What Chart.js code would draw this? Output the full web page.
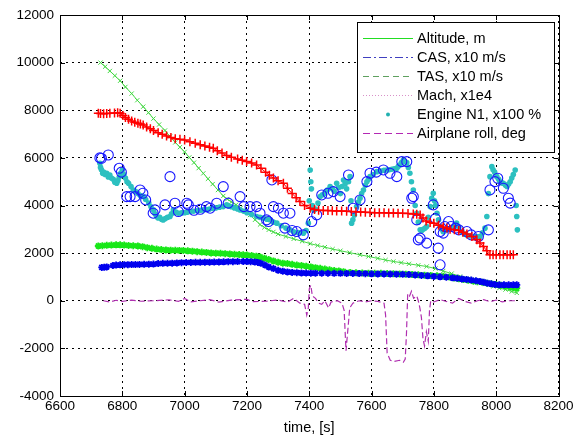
<!DOCTYPE html>
<html><head><meta charset="utf-8">
<script src="https://cdn.jsdelivr.net/npm/chart.js@4.4.1/dist/chart.umd.min.js"></script>
<style>html,body{margin:0;padding:0;background:#fff}</style>
</head><body>
<canvas id="c" width="577" height="437"></canvas>
<script>
// ---- tick labels ----
const xTickValues = [6600, 6800, 7000, 7200, 7400, 7600, 7800, 8000, 8200];
const yTickValues = [-4000, -2000, 0, 2000, 4000, 6000, 8000, 10000, 12000];
const xTitle = 'time, [s]';

// ---- legend ----
const legendLabels = ['Altitude, m', 'CAS, x10 m/s', 'TAS, x10 m/s', 'Mach, x1e4', 'Engine N1, x100 %', 'Airplane roll, deg'];

// ---- series: Altitude (green, x markers) ----
const altT = [6730,6745,6760,6776,6793,6810,6830,6848,6867,6884,6900,6918,6937,6953,6970,6985,7000,7015,7030,7045,7060,7075,7090,7107,7124,7137,7150,7165,7180,7195,7210,7226,7242,7256,7270,7285,7300,7325,7350,7377,7403,7427,7450,7475,7500,7530,7563,7590,7620,7645,7670,7695,7720,7750,7777,7805,7830,7857,7884,7912,7940,7965,7991,8010,8030,8050,8066];
const altV = [10000,9830,9650,9450,9240,8980,8700,8420,8150,7900,7650,7400,7150,6900,6650,6450,6250,6020,5800,5570,5350,5120,4900,4650,4400,4270,4150,4030,3900,3760,3600,3400,3200,3080,2980,2890,2800,2700,2600,2500,2400,2320,2250,2170,2100,2020,1930,1860,1780,1710,1650,1600,1550,1490,1440,1350,1250,1140,1020,910,800,700,600,530,470,390,330];

// ---- series: TAS (green, * markers) ----
const tasT = [6723,6736,6750,6765,6780,6793,6806,6820,6835,6850,6865,6880,6895,6910,6925,6940,6955,6970,6983,6996,7010,7025,7040,7055,7070,7085,7100,7115,7130,7145,7160,7175,7188,7200,7215,7230,7242,7256,7270,7285,7300,7315,7330,7345,7360,7375,7390,7405,7420,7435,7450,7465,7480,7495,7510,7531,7550,7570,7590,7610,7630,7650,7670,7690,7710,7730,7750,7770,7790,7810,7830,7850,7865,7880,7895,7910,7927,7940,7955,7970,7985,8000,8015,8030,8045,8055,8066];
const tasV = [2300,2310,2330,2340,2350,2350,2340,2320,2310,2300,2270,2230,2200,2170,2150,2135,2125,2120,2115,2110,2095,2080,2060,2045,2030,2010,2000,1990,1975,1965,1950,1940,1930,1920,1900,1870,1840,1790,1730,1670,1620,1580,1560,1530,1500,1480,1450,1420,1390,1360,1330,1300,1270,1250,1220,1190,1175,1165,1160,1155,1150,1140,1135,1125,1115,1105,1090,1075,1065,1050,1030,1000,960,920,890,860,820,800,780,740,710,680,650,610,580,560,530];

// ---- series: CAS (blue, * markers) ----
const casT = [6734,6742,6750,6770,6780,6793,6806,6818,6830,6842,6855,6870,6885,6900,6915,6930,6945,6960,6975,6990,7005,7020,7035,7050,7065,7080,7095,7110,7125,7140,7155,7170,7188,7200,7212,7225,7235,7245,7258,7270,7285,7300,7315,7330,7345,7360,7375,7390,7405,7420,7440,7460,7480,7500,7520,7540,7560,7580,7600,7620,7640,7660,7680,7700,7720,7740,7760,7780,7800,7820,7840,7860,7875,7890,7905,7920,7935,7948,7960,7972,7984,7996,8010,8025,8040,8055,8066];
const casV = [1400,1405,1420,1480,1500,1510,1515,1515,1520,1520,1525,1530,1535,1540,1560,1570,1575,1580,1590,1600,1606,1610,1612,1615,1618,1620,1623,1630,1635,1640,1642,1645,1648,1645,1640,1630,1610,1570,1500,1420,1350,1280,1240,1210,1190,1180,1170,1165,1160,1158,1155,1155,1152,1150,1148,1145,1140,1135,1130,1128,1125,1120,1115,1110,1100,1085,1065,1045,1020,1005,990,965,940,915,895,870,840,810,780,740,710,680,670,670,670,670,670];

// ---- series: Mach (red, + markers) ----
const machT = [6723,6730,6740,6750,6760,6775,6785,6793,6802,6810,6820,6830,6840,6850,6858,6867,6878,6890,6900,6915,6928,6942,6956,6970,6985,7000,7017,7034,7050,7065,7080,7092,7105,7120,7135,7150,7170,7185,7199,7215,7231,7245,7260,7272,7285,7300,7317,7330,7345,7358,7370,7385,7403,7417,7430,7445,7460,7474,7488,7504,7520,7535,7550,7565,7580,7595,7610,7625,7640,7655,7670,7685,7700,7717,7734,7745,7756,7765,7775,7788,7800,7815,7830,7842,7852,7866,7880,7893,7906,7922,7938,7948,7959,7970,7980,7990,8000,8012,8023,8035,8045,8055];
const machV = [7870,7860,7850,7860,7870,7880,7900,7870,7780,7700,7620,7550,7500,7450,7420,7380,7300,7220,7150,7060,6990,6920,6860,6800,6780,6750,6680,6610,6550,6500,6450,6400,6300,6200,6100,6030,5950,5900,5850,5780,5700,5560,5400,5270,5150,5040,4935,4720,4500,4330,4164,4000,3887,3830,3800,3795,3790,3780,3774,3767,3760,3750,3740,3725,3712,3703,3698,3694,3692,3690,3684,3678,3672,3660,3648,3630,3606,3480,3350,3290,3250,3170,3100,3050,3006,2980,2950,2880,2800,2700,2560,2420,2277,2100,1929,1929,1929,1929,1929,1929,1929,1929];

// ---- series: Engine N1 (cyan dots) ----
const n1T = [6728,6730,6733,6737,6740,6745,6750,6755,6760,6765,6771,6776,6782,6786,6790,6795,6800,6805,6810,6815,6820,6828,6835,6842,6850,6858,6867,6875,6885,6892,6900,6905,6910,6915,6920,6926,6931,6938,6945,6953,6958,6964,6972,6980,6990,7000,7008,7017,7028,7040,7050,7060,7070,7080,7090,7100,7112,7124,7135,7142,7150,7160,7170,7178,7190,7200,7215,7231,7242,7253,7264,7274,7285,7296,7310,7325,7338,7350,7365,7381,7390,7397,7400,7403,7405,7407,7410,7415,7420,7428,7435,7442,7450,7458,7467,7474,7480,7488,7494,7500,7505,7510,7515,7520,7526,7531,7534,7536,7540,7545,7552,7558,7563,7568,7574,7580,7585,7590,7595,7605,7617,7630,7640,7649,7657,7665,7673,7681,7686,7690,7696,7702,7707,7713,7718,7723,7728,7734,7740,7745,7750,7756,7761,7766,7772,7777,7782,7788,7793,7798,7802,7805,7810,7815,7820,7825,7830,7838,7845,7855,7863,7873,7880,7890,7898,7906,7918,7930,7940,7948,7956,7964,7970,7975,7980,7986,7990,7995,8002,8008,8012,8018,8023,8030,8035,8040,8045,8050,8055,8061,8064,8066,8068];
const n1V = [5774,5600,5500,5350,5400,5300,5350,5200,5283,5150,5100,4980,4935,5050,5200,5350,5493,5300,5150,5000,4935,4800,4654,4600,4500,4420,4373,4250,4100,3950,3816,3650,3535,3480,3500,3420,3396,3450,3500,3535,3650,3816,3720,3677,3690,3700,3720,3745,3760,3780,3800,3816,3830,3850,3880,3900,3930,3954,4025,3980,3950,3900,3850,3816,3760,3700,3620,3535,3500,3468,3420,3400,3300,3258,3150,3050,2977,2900,2860,2838,2950,3258,4200,5493,5000,4700,4000,3800,3850,4100,4373,4450,4500,4650,4793,4700,4600,4935,4750,4500,4800,5073,4900,4700,5000,5212,4200,3258,3400,3600,3954,4150,4300,4500,4654,4850,5000,5100,5212,5300,5422,5450,5480,5493,5500,5520,5540,5563,5650,5700,5800,5912,5850,5800,5600,5354,5000,4654,4000,3677,3300,2977,2950,3000,3050,3115,3500,3954,4300,4515,4200,4000,3677,3400,3115,3000,2900,2950,3000,3050,3115,3258,3100,2900,2800,2750,2720,2700,2690,2700,2850,3048,3535,4500,5212,5632,5500,5400,5212,5100,5000,4950,4935,4850,4800,4900,5000,5150,5300,5493,4000,3535,2977];

// ---- series: blue circles ----
const circT = [6728,6733,6755,6790,6797,6814,6825,6841,6857,6866,6875,6899,6905,6937,6953,6969,6980,7007,7012,7030,7050,7070,7082,7103,7124,7140,7178,7190,7210,7231,7242,7263,7269,7280,7285,7301,7317,7322,7338,7345,7360,7381,7408,7424,7440,7460,7477,7499,7526,7541,7563,7585,7595,7615,7638,7659,7681,7697,7713,7729,7734,7745,7750,7756,7777,7798,7805,7814,7820,7820,7830,7835,7847,7855,7870,7880,7906,7920,7943,7975,7980,7996,8005,8023,8039,8045];
const circV = [6000,5983,6122,5563,5400,4373,4373,4373,4654,4515,4234,3677,3816,4025,5212,4095,3745,4095,4025,3800,3842,3954,3887,4095,4793,4100,4373,3954,3954,3954,3677,3396,3325,5073,3954,3887,3677,3048,3677,2950,2906,2767,3325,3606,4444,4515,4583,4373,5283,3887,4234,5003,5354,5400,5493,5354,5212,5841,5841,4304,4373,3396,2558,2629,2419,4025,3450,2210,2906,1509,2838,3115,3325,3115,3048,2977,2906,2767,2700,2977,4654,5003,5145,4725,4304,4100];

// ---- series: Airplane roll (magenta dashed) ----
const rollT = [6739,6760,6780,6800,6830,6860,6900,6950,6980,7000,7020,7050,7080,7110,7150,7200,7220,7260,7300,7330,7350,7370,7385,7392,7397,7400,7405,7410,7420,7430,7440,7450,7462,7470,7490,7505,7512,7518,7524,7530,7540,7560,7580,7600,7620,7640,7645,7650,7660,7672,7690,7702,7708,7712,7716,7722,7728,7735,7745,7750,7755,7760,7765,7770,7776,7782,7786,7790,7800,7820,7840,7860,7870,7880,7900,7920,7940,7960,7980,8000,8020,8040,8066];
const rollV = [0,-50,20,-30,30,-20,0,40,-30,100,-50,0,50,-60,30,60,-40,-20,30,-60,100,-100,-150,-600,-300,500,650,200,100,-100,-150,0,-300,-50,0,-100,-400,-2100,-1200,-300,-100,0,-50,0,-30,-100,-600,-2200,-2500,-2550,-2500,-2580,-2450,-1400,300,200,400,100,200,0,-300,-700,-1600,-1900,-1300,-1700,-400,0,-50,50,-30,-100,0,100,-30,-100,0,50,-40,30,-50,0,0];

const zip = (t, v) => t.map((x, i) => ({x: x, y: v[i]}));

const FONT = '"Liberation Sans", Arial, sans-serif';

const framePlugin = {
  id: 'frame',
  afterDraw(chart) {
    const ctx = chart.ctx;
    const a = chart.chartArea;
    const xs = chart.scales.x, ys = chart.scales.y;
    ctx.save();
    ctx.setLineDash([]);
    ctx.strokeStyle = '#000';
    ctx.lineWidth = 1;
    // inward ticks
    ctx.beginPath();
    xTickValues.forEach(v => {
      const px = Math.round(xs.getPixelForValue(v)) + 0.5;
      ctx.moveTo(px, a.bottom); ctx.lineTo(px, a.bottom - 5);
      ctx.moveTo(px, a.top); ctx.lineTo(px, a.top + 5);
    });
    yTickValues.forEach(v => {
      const py = Math.round(ys.getPixelForValue(v)) + 0.5;
      ctx.moveTo(a.left, py); ctx.lineTo(a.left + 5, py);
      ctx.moveTo(a.right, py); ctx.lineTo(a.right - 5, py);
    });
    ctx.stroke();
    // box
    ctx.strokeRect(Math.round(a.left) + 0.5, Math.round(a.top) + 0.5, Math.round(a.right - a.left), Math.round(a.bottom - a.top));

    // legend
    const lx = 357, ly = 22, lw = 197, lh = 130;
    ctx.fillStyle = '#fff';
    ctx.fillRect(lx, ly, lw, lh);
    ctx.strokeStyle = '#000';
    ctx.strokeRect(lx + 0.5, ly + 0.5, lw, lh);
    const rows = [38.5, 57.5, 76.5, 95.5, 114.5, 133.5];
    const styles = [
      {color: '#22dd22', dash: []},
      {color: '#4040c0', dash: [8, 3, 2, 3]},
      {color: '#5fa05f', dash: [6, 4]},
      {color: '#d890c8', dash: [1, 2]},
      {color: '#22b0b0', dot: true},
      {color: '#b428b4', dash: [7, 4]}
    ];
    ctx.font = '14.5px ' + FONT;
    ctx.textBaseline = 'middle';
    ctx.textAlign = 'left';
    legendLabels.forEach((lab, i) => {
      const y = rows[i];
      const s = styles[i];
      if (s.dot) {
        ctx.fillStyle = s.color;
        ctx.beginPath(); ctx.arc(388, y, 2, 0, Math.PI * 2); ctx.fill();
      } else {
        ctx.strokeStyle = s.color;
        ctx.setLineDash(s.dash);
        ctx.beginPath(); ctx.moveTo(363, y); ctx.lineTo(413, y); ctx.stroke();
        ctx.setLineDash([]);
      }
      ctx.fillStyle = '#000';
      ctx.fillText(lab, 417, y + 0.5);
    });
    ctx.restore();
  }
};

new Chart(document.getElementById('c'), {
  type: 'scatter',
  data: {
    datasets: [
      {label: 'Airplane roll', data: zip(rollT, rollV), showLine: true, borderColor: '#b030b0', borderWidth: 1.2, borderDash: [6, 3], pointRadius: 0, order: 0},
      {label: 'Mach', data: zip(machT, machV), showLine: true, borderColor: '#ff0000', backgroundColor: '#ff0000', borderWidth: 1, pointStyle: 'cross', pointRadius: 4.5, pointBorderWidth: 1.5, order: 1},
      {label: 'circles', data: zip(circT, circV), showLine: false, borderColor: '#1818ff', backgroundColor: 'rgba(0,0,0,0)', pointStyle: 'circle', pointRadius: 5, pointBorderWidth: 1.1, order: 2},
      {label: 'Engine N1', data: zip(n1T, n1V), showLine: false, borderColor: '#2cc0c0', backgroundColor: '#2cc0c0', pointStyle: 'circle', pointRadius: 2.8, pointBorderWidth: 0, order: 3},
      {label: 'CAS', data: zip(casT, casV), showLine: true, borderColor: '#0000ee', backgroundColor: '#0000ee', borderWidth: 1, pointStyle: 'star', pointRadius: 3.5, pointBorderWidth: 1.8, order: 4},
      {label: 'TAS', data: zip(tasT, tasV), showLine: true, borderColor: '#18e818', backgroundColor: '#18e818', borderWidth: 1, pointStyle: 'star', pointRadius: 3.5, pointBorderWidth: 1.8, order: 5},
      {label: 'Altitude', data: zip(altT, altV), showLine: true, borderColor: '#44d844', backgroundColor: '#44d844', borderWidth: 1, pointStyle: 'crossRot', pointRadius: 3, pointBorderWidth: 1, order: 6}
    ]
  },
  options: {
    responsive: false,
    animation: false,
    devicePixelRatio: 1,
    layout: {padding: {left: 0, right: 18.5, top: 15, bottom: 0}},
    plugins: {legend: {display: false}, tooltip: {enabled: false}},
    elements: {line: {tension: 0}},
    scales: {
      x: {
        type: 'linear', min: 6600, max: 8200,
        afterBuildTicks: s => { s.ticks = xTickValues.map(v => ({value: v})); },
        afterFit: s => { s.height = 41; },
        ticks: {color: '#000', font: {family: FONT, size: 13.5}, padding: 2, maxRotation: 0, autoSkip: false, callback: v => String(v)},
        grid: {color: '#000', lineWidth: 1, drawTicks: false},
        border: {display: false, dash: [2, 4]},
        title: {display: true, text: xTitle, color: '#000', font: {family: FONT, size: 14.5}, padding: {top: 0, bottom: 0}}
      },
      y: {
        type: 'linear', min: -4000, max: 12000,
        afterBuildTicks: s => { s.ticks = yTickValues.map(v => ({value: v})); },
        afterFit: s => { s.width = 60; },
        ticks: {color: '#000', font: {family: FONT, size: 13.5}, padding: 6, autoSkip: false, callback: v => String(v)},
        grid: {color: '#000', lineWidth: 1, drawTicks: false},
        border: {display: false, dash: [2, 4]}
      }
    }
  },
  plugins: [framePlugin]
});
</script>
</body></html>
